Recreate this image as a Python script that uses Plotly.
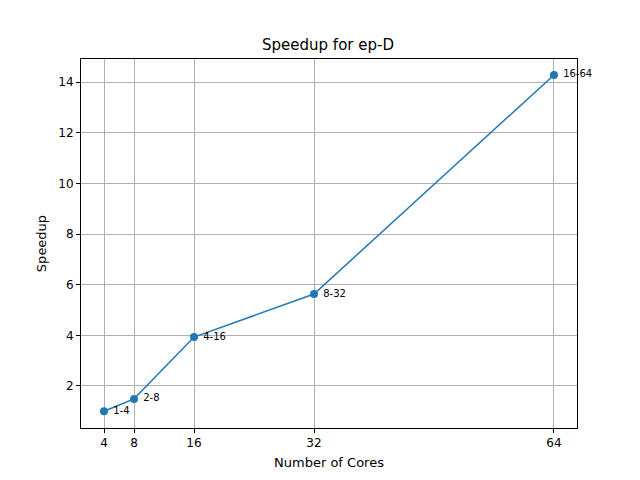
import plotly.graph_objects as go

cores = [4, 8, 16, 32, 64]
speedup = [1.0, 1.49, 3.93, 5.63, 14.28]
labels = ["1-4", "2-8", "4-16", "8-32", "16-64"]

fig = go.Figure()
fig.add_trace(go.Scatter(
    x=cores, y=speedup, mode="lines+markers+text",
    line=dict(color="#1f77b4", width=1.5),
    marker=dict(size=8, color="#1f77b4"),
    text=[" " + t for t in labels], textposition="middle right",
    textfont=dict(size=10, color="black"),
    cliponaxis=False,
))

axis = dict(showgrid=True, gridcolor="#b0b0b0", gridwidth=1, zeroline=False,
            showline=True, linecolor="black", mirror=True, ticks="outside",
            tickcolor="black", ticklen=4, tickfont=dict(size=12, color="black"),
            automargin=False)

fig.update_layout(
    width=640, height=480,
    paper_bgcolor="white", plot_bgcolor="white",
    font=dict(family="DejaVu Sans", color="black"),
    title=dict(text="Speedup for ep-D", x=0.5, xanchor="center", y=0.935, font=dict(size=15)),
    margin=dict(l=73, r=71, t=51, b=60),
    showlegend=False,
    xaxis=dict(axis, range=[0.93, 67.07], tickvals=cores,
               title=dict(text="Number of Cores", font=dict(size=13), standoff=8)),
    yaxis=dict(axis, range=[0.34, 14.91], tickvals=[2, 4, 6, 8, 10, 12, 14],
               title=dict(text="Speedup", font=dict(size=13), standoff=8)),
)

fig.write_html("out.html")
